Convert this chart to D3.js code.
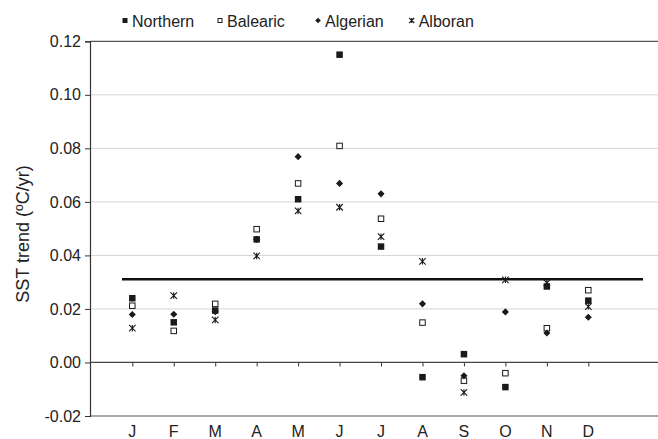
<!DOCTYPE html>
<html>
<head>
<meta charset="utf-8">
<script src="https://d3js.org/d3.v7.min.js"></script>
<style>
body { margin: 0; background: #fff; }
svg { font-family: "Liberation Sans", Arial, Helvetica, sans-serif; }
</style>
</head>
<body>
<div id="chart"></div>
<script>
// data
var months = ["J","F","M","A","M","J","J","A","S","O","N","D"];
var northern = [0.024, 0.015, 0.0194, 0.046, 0.061, 0.115, 0.0433, -0.0055, 0.0031, -0.0092, 0.0284, 0.0231];
var balearic = [0.0212, 0.0118, 0.0219, 0.0498, 0.0669, 0.0809, 0.0537, 0.0149, -0.0068, -0.004, 0.0128, 0.027];
var algerian = [0.0179, 0.018, 0.019, 0.046, 0.0769, 0.0669, 0.063, 0.0219, -0.005, 0.0189, 0.011, 0.0169];
var alboran = [0.0128, 0.025, 0.0159, 0.0398, 0.0566, 0.058, 0.047, 0.0378, -0.0112, 0.0309, 0.0297, 0.0209];
var meanTrend = 0.0311;
var yTicks = [-0.02, 0, 0.02, 0.04, 0.06, 0.08, 0.10, 0.12];

var W = 658, H = 439;
var svg = d3.select("#chart").append("svg").attr("width", W).attr("height", H);

var x = d3.scalePoint().domain(d3.range(12)).range([132.3, 588.3]);
var y = d3.scaleLinear().domain([-0.02, 0.12]).range([416, 41.3]);
var left = 90, right = 658;

// grid lines
svg.selectAll(".grid").data([0.02, 0.04, 0.06, 0.08, 0.10]).enter().append("line")
  .attr("x1", left).attr("x2", right)
  .attr("y1", function(d) { return y(d); }).attr("y2", function(d) { return y(d); })
  .style("stroke", "#d4d4d4").style("stroke-width", 1);

// top and bottom frame lines
[0.12, -0.02].forEach(function(v) {
  svg.append("line").attr("x1", left).attr("x2", right)
    .attr("y1", y(v)).attr("y2", y(v))
    .style("stroke", "#555").style("stroke-width", 1.2);
});

// y axis
var yAxis = svg.append("g").attr("transform", "translate(" + left + ",0)")
  .call(d3.axisLeft(y).tickValues(yTicks).tickSize(5).tickPadding(4).tickFormat(d3.format(".2f")));
yAxis.select(".domain").style("stroke", "#333").style("stroke-width", 1.2);
yAxis.selectAll(".tick line").style("stroke", "#333");
yAxis.selectAll("text").style("font-size", "16px").style("fill", "#222");
yAxis.selectAll(".tick text").filter(function(d) { return d < 0; }).text("-0.02");

// zero axis with month ticks
var xAxis = svg.append("g").attr("transform", "translate(0," + y(0) + ")")
  .call(d3.axisBottom(x).tickSize(4).tickFormat(""));
xAxis.select(".domain").remove();
xAxis.selectAll(".tick line").style("stroke", "#333");
svg.append("line").attr("x1", left).attr("x2", right)
  .attr("y1", y(0)).attr("y2", y(0))
  .style("stroke", "#444").style("stroke-width", 1.2);

// month labels at bottom
svg.selectAll(".mlab").data(months).enter().append("text")
  .attr("x", function(d, i) { return x(i); })
  .attr("y", 437)
  .attr("text-anchor", "middle")
  .style("font-size", "16px").style("fill", "#222")
  .text(function(d) { return d; });

// axis title
svg.append("text")
  .attr("transform", "translate(29,234) rotate(-90)")
  .attr("text-anchor", "middle")
  .style("font-size", "18px").style("fill", "#222")
  .text("SST trend (ºC/yr)");

// mean line
svg.append("line")
  .attr("x1", 122).attr("x2", 643)
  .attr("y1", y(meanTrend)).attr("y2", y(meanTrend))
  .style("stroke", "#111").style("stroke-width", 2.4);

var ink = "#1a1a1a";
function drawMarker(g, kind, cx, cy, s) {
  if (kind === "fsq") {
    g.append("rect").attr("x", cx - s / 2).attr("y", cy - s / 2).attr("width", s).attr("height", s)
      .style("fill", ink);
  } else if (kind === "osq") {
    var t = s - 1;
    g.append("rect").attr("x", cx - t / 2).attr("y", cy - t / 2).attr("width", t).attr("height", t)
      .style("fill", "#fff").style("stroke", ink).style("stroke-width", 1);
  } else if (kind === "dia") {
    var r = s / 2 + 0.3;
    g.append("path")
      .attr("d", "M" + cx + "," + (cy - r) + "L" + (cx + r) + "," + cy + "L" + cx + "," + (cy + r) + "L" + (cx - r) + "," + cy + "Z")
      .style("fill", ink);
  } else {
    var h = s / 2;
    g.append("path")
      .attr("d", "M" + (cx - h) + "," + (cy - h) + "L" + (cx + h) + "," + (cy + h) +
                 "M" + (cx - h) + "," + (cy + h) + "L" + (cx + h) + "," + (cy - h) +
                 "M" + cx + "," + (cy - h) + "L" + cx + "," + (cy + h))
      .style("stroke", ink).style("stroke-width", 1.1).style("fill", "none");
  }
}

var series = [
  { name: "Northern", kind: "fsq", values: northern },
  { name: "Balearic", kind: "osq", values: balearic },
  { name: "Algerian", kind: "dia", values: algerian },
  { name: "Alboran", kind: "ast", values: alboran }
];

var pts = svg.append("g");
series.forEach(function(s) {
  s.values.forEach(function(v, i) {
    drawMarker(pts, s.kind, x(i), y(v), 6.5);
  });
});

// legend
var legX = [125, 220, 318, 411.7];
var leg = svg.append("g");
series.forEach(function(s, i) {
  drawMarker(leg, s.kind, legX[i], 20.5, 5);
  leg.append("text").attr("x", legX[i] + 7).attr("y", 26.5)
    .style("font-size", "16px").style("fill", "#222").text(s.name);
});
</script>
</body>
</html>
